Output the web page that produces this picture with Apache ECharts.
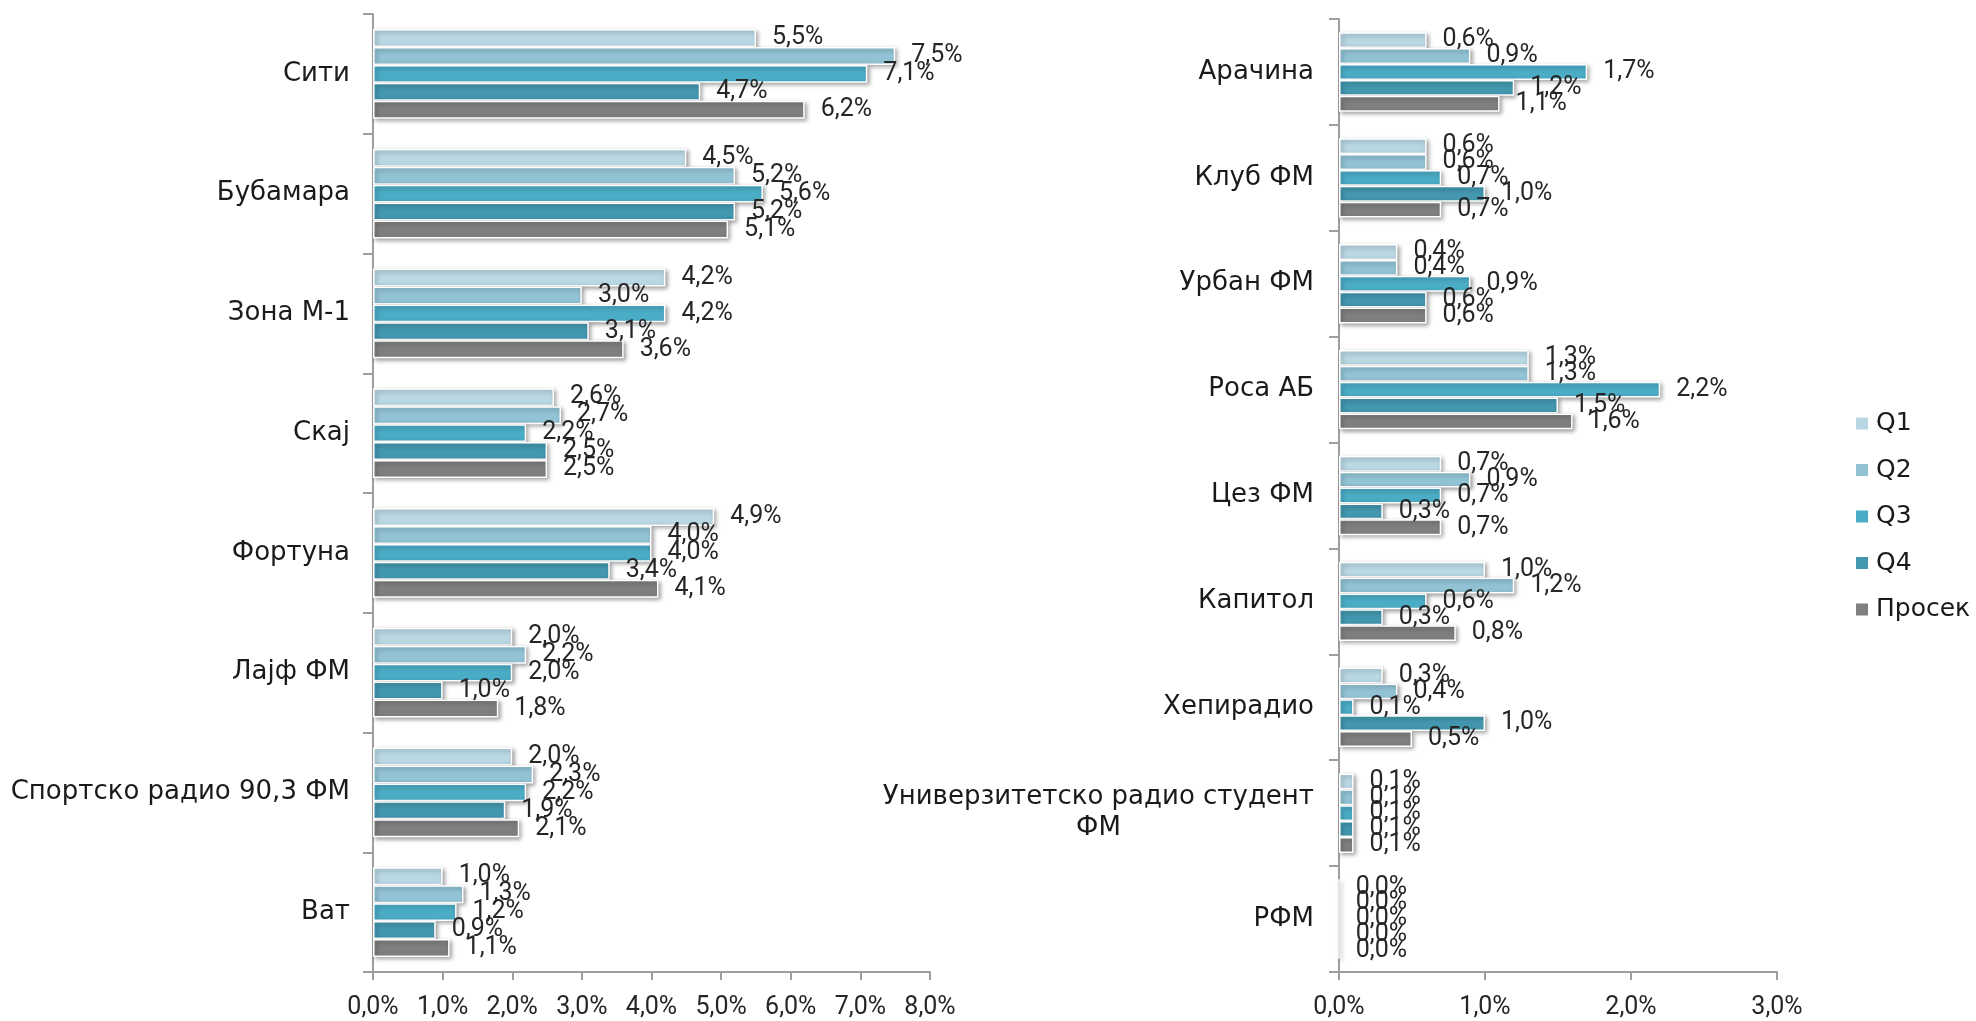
<!DOCTYPE html>
<html>
<head>
<meta charset="utf-8">
<script src="https://cdn.jsdelivr.net/npm/echarts@6/dist/echarts.min.js"></script>
<style>
html,body{margin:0;padding:0;background:#fff;}
#chart{width:1976px;height:1021px;}
</style>
</head>
<body>
<div id="chart"></div>
<script>
// ---- Data ----
const seriesNames = ['Q1', 'Q2', 'Q3', 'Q4', 'Просек'];
const leftCategories = ['Сити', 'Бубамара', 'Зона М-1', 'Скај', 'Фортуна', 'Лајф ФМ', 'Спортско радио 90,3 ФМ', 'Ват'];
const leftQ1 =     [5.5, 4.5, 4.2, 2.6, 4.9, 2.0, 2.0, 1.0];
const leftQ2 =     [7.5, 5.2, 3.0, 2.7, 4.0, 2.2, 2.3, 1.3];
const leftQ3 =     [7.1, 5.6, 4.2, 2.2, 4.0, 2.0, 2.2, 1.2];
const leftQ4 =     [4.7, 5.2, 3.1, 2.5, 3.4, 1.0, 1.9, 0.9];
const leftAvg =    [6.2, 5.1, 3.6, 2.5, 4.1, 1.8, 2.1, 1.1];

const rightCategories = ['Арачина', 'Клуб ФМ', 'Урбан ФМ', 'Роса АБ', 'Цез ФМ', 'Капитол', 'Хепирадио', 'Универзитетско радио студент ФМ', 'РФМ'];
const rightQ1 =    [0.6, 0.6, 0.4, 1.3, 0.7, 1.0, 0.3, 0.1, 0.0];
const rightQ2 =    [0.9, 0.6, 0.4, 1.3, 0.9, 1.2, 0.4, 0.1, 0.0];
const rightQ3 =    [1.7, 0.7, 0.9, 2.2, 0.7, 0.6, 0.1, 0.1, 0.0];
const rightQ4 =    [1.2, 1.0, 0.6, 1.5, 0.3, 0.3, 1.0, 0.1, 0.0];
const rightAvg =   [1.1, 0.7, 0.6, 1.6, 0.7, 0.8, 0.5, 0.1, 0.0];

const leftTicks = { min: 0, max: 8, interval: 1 };
const rightTicks = { min: 0, max: 3, interval: 1 };

// ---- Style ----
const colors = ['#B9D8E4', '#92C3D5', '#4BACC6', '#4397AF', '#7F7F7F'];
const catFont = 'DejaVu Sans';
const numFont = 'Roboto';
const axisGray = '#9E9E9E';

const fmtPct = v => v.toFixed(1).replace('.', ',') + '%';

function valueAxis(gridIndex, t) {
  return {
    type: 'value', gridIndex: gridIndex, min: t.min, max: t.max, interval: t.interval,
    splitLine: { show: false },
    axisLine: { show: true, lineStyle: { color: axisGray, width: 2 } },
    axisTick: { show: true, length: 8, lineStyle: { color: axisGray, width: 2 } },
    axisLabel: { formatter: v => fmtPct(v), fontFamily: numFont, fontSize: 25, color: '#262626', margin: 23 }
  };
}

function catAxis(gridIndex, cats, margin) {
  return {
    type: 'category', gridIndex: gridIndex, data: cats, inverse: true,
    axisLine: { show: true, lineStyle: { color: axisGray, width: 2 } },
    axisTick: { show: true, length: 10, lineStyle: { color: axisGray, width: 2 } },
    axisLabel: {
      fontFamily: catFont, fontSize: 26, color: '#1a1a1a', margin: margin, interval: 0,
      formatter: function (v) {
        if (v === 'Универзитетско радио студент ФМ') {
          return '{a|Универзитетско радио студент}\n{c|ФМ}';
        }
        return v;
      },
      rich: {
        a: { fontFamily: catFont, fontSize: 26, color: '#1a1a1a', lineHeight: 31 },
        c: { fontFamily: catFont, fontSize: 26, color: '#1a1a1a', lineHeight: 31, align: 'center' }
      }
    }
  };
}

function makeSeries(gridIdx, arrays) {
  return arrays.map((arr, i) => ({
    name: seriesNames[i], type: 'bar', xAxisIndex: gridIdx, yAxisIndex: gridIdx,
    data: arr, barGap: '0%', barCategoryGap: '25%',
    itemStyle: {
      color: colors[i], borderColor: '#ffffff', borderWidth: 1.5,
      shadowColor: 'rgba(0,0,0,0.35)', shadowBlur: 4, shadowOffsetX: 2, shadowOffsetY: 2
    },
    label: {
      show: true, position: 'right', distance: 16,
      formatter: p => fmtPct(p.value),
      fontFamily: numFont, fontSize: 25, color: '#262626'
    }
  }));
}

const chart = echarts.init(document.getElementById('chart'), null, { renderer: 'canvas' });
chart.setOption({
  backgroundColor: '#ffffff',
  animation: false,
  color: colors,
  legend: {
    data: seriesNames, orient: 'vertical', left: 1849, top: 406,
    itemWidth: 14, itemHeight: 14, itemGap: 21.5, icon: 'rect',
    textStyle: { fontFamily: catFont, fontSize: 25, color: '#1a1a1a', padding: [0, 0, 0, 2] }
  },
  grid: [
    { left: 373, top: 14, width: 557, height: 958 },
    { left: 1339, top: 19, width: 438, height: 953 }
  ],
  xAxis: [valueAxis(0, leftTicks), valueAxis(1, rightTicks)],
  yAxis: [catAxis(0, leftCategories, 23), catAxis(1, rightCategories, 25)],
  series: [].concat(
    makeSeries(0, [leftQ1, leftQ2, leftQ3, leftQ4, leftAvg]),
    makeSeries(1, [rightQ1, rightQ2, rightQ3, rightQ4, rightAvg])
  )
});
</script>
</body>
</html>
